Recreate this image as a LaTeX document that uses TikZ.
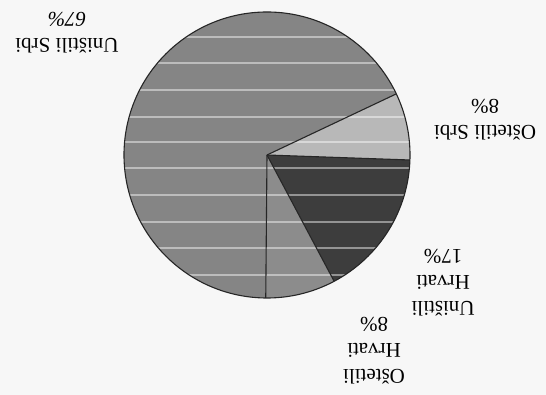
\documentclass[tikz,border=0pt]{standalone}
\usepackage{fontspec}
\setmainfont{Liberation Serif}
\begin{document}
\begin{tikzpicture}[x=1pt,y=1pt,
  lbl/.style={rotate=180,align=center,font=\fontsize{21}{26}\selectfont,inner sep=0pt},
  wedge/.style={draw=black!85,line width=1.1pt,line join=round}]
\useasboundingbox[fill=black!3] (0,0) rectangle (546,395);
\coordinate (c) at (267,240);
\def\R{143}
% wedges
\fill[black!48] (c) -- ++(25.3:\R) arc[start angle=25.3,end angle=269.5,radius=\R] -- cycle;
\fill[black!28] (c) -- ++(-2:\R) arc[start angle=-2,end angle=25.3,radius=\R] -- cycle;
\fill[black!76] (c) -- ++(-62:\R) arc[start angle=-62,end angle=-2,radius=\R] -- cycle;
\fill[black!45] (c) -- ++(-90.5:\R) arc[start angle=-90.5,end angle=-62,radius=\R] -- cycle;
% stripes
\begin{scope}
\clip (c) circle[radius=\R];
\foreach \yy in {358,332,305,278,253,227,200,173,147,120}
  \draw[white,opacity=0.45,line width=1.2pt] (100,\yy) -- (430,\yy);
\end{scope}
% outlines
\draw[wedge] (c) -- ++(25.3:\R);
\draw[wedge] (c) -- ++(-2:\R);
\draw[wedge] (c) -- ++(-62:\R);
\draw[wedge] (c) -- ++(-90.5:\R);
\draw[wedge] (c) circle[radius=\R];
% labels
\node[lbl] (us) at (67,362) {Uništili Srbi\\\textit{67\%}};
\node[lbl] (os) at (485,275) {Oštetili Srbi\\8\%};
\node[lbl] (uh) at (443,112) {Uništili\\Hrvati\\17\%};
\node[lbl] (oh) at (374,44) {Oštetili\\Hrvati\\8\%};
\end{tikzpicture}
\end{document}
